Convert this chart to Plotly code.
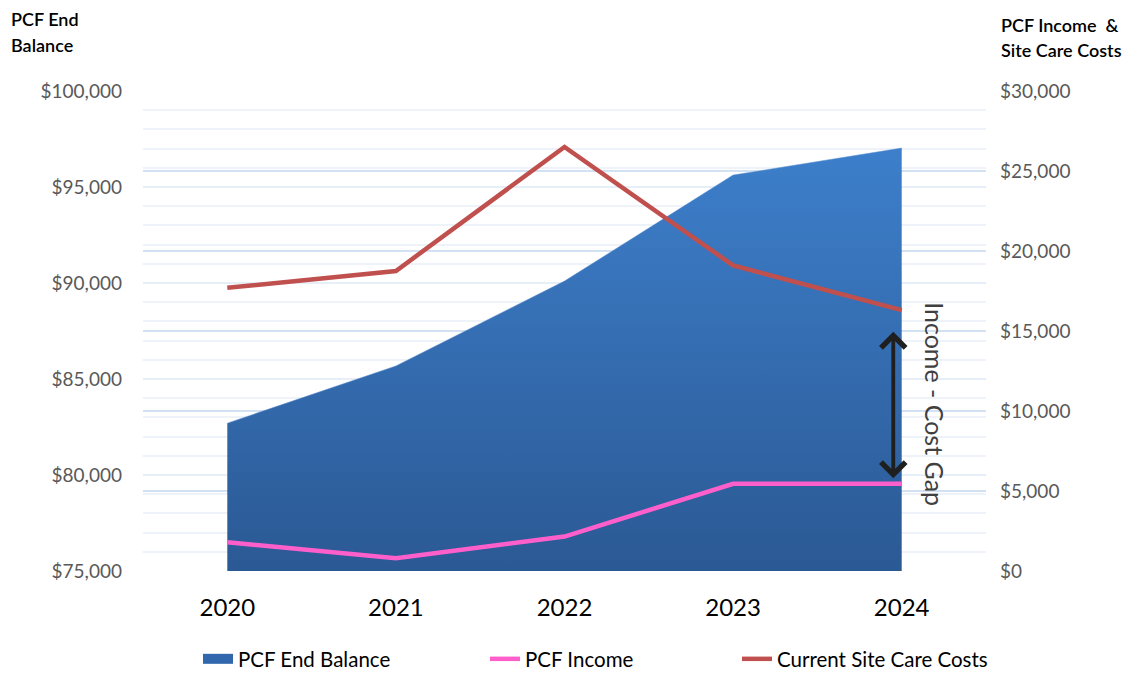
import plotly.graph_objects as go

years = ["2020", "2021", "2022", "2023", "2024"]
end_balance = [82700, 85680, 90100, 95620, 97030]
pcf_income = [1800, 800, 2150, 5450, 5450]
site_care_costs = [17700, 18750, 26500, 19100, 16300]

left_ticks = [75000, 80000, 85000, 90000, 95000, 100000]
right_ticks = [0, 5000, 10000, 15000, 20000, 25000, 30000]

FONT = "Lato"
BLUE_TOP = "#3d7fcb"
BLUE_BOTTOM = "#2b5994"

fig = go.Figure()

fig.add_trace(go.Scatter(
    x=years, y=end_balance, name="PCF End Balance", mode="lines",
    fill="tozeroy", line=dict(width=0.5, color="#5b8fd0"),
    fillgradient=dict(type="vertical", start=75000, stop=97030,
                      colorscale=[[0, BLUE_BOTTOM], [1, BLUE_TOP]]),
    yaxis="y", showlegend=False,
))
# legend-only entry for the area (no data points)
fig.add_trace(go.Scatter(
    x=[None], y=[None], name="PCF End Balance", mode="lines",
    line=dict(width=16, color="#3168ad"), yaxis="y", legend="legend",
))
fig.add_trace(go.Scatter(
    x=years, y=pcf_income, name="PCF Income", mode="lines",
    line=dict(width=4.5, color="#ff5fcb"), yaxis="y2", legend="legend2",
))
fig.add_trace(go.Scatter(
    x=years, y=site_care_costs, name="Current Site Care Costs", mode="lines",
    line=dict(width=4.5, color="#c0504d"), yaxis="y2", legend="legend3",
))

legend_common = dict(orientation="h", xref="container", yref="container",
                     yanchor="middle", y=14 / 673, bgcolor="rgba(0,0,0,0)",
                     font=dict(family=FONT, size=20.5, color="#000000"))

fig.update_layout(
    width=1124, height=673,
    margin=dict(l=142.5, r=137.5, t=91, b=102),
    paper_bgcolor="white", plot_bgcolor="white",
    font=dict(family=FONT),
    xaxis=dict(
        type="category", range=[-0.5, 4.5], showgrid=False, zeroline=False,
        showline=False, ticks="", tickfont=dict(family=FONT, size=24, color="#000000"),
        ticklabelstandoff=20,
    ),
    yaxis=dict(
        range=[75000, 100000], tickvals=left_ticks,
        ticktext=[f"${v:,}" for v in left_ticks],
        tickfont=dict(family=FONT, size=19, color="#595959"),
        showgrid=True, gridcolor="#e6eef8", gridwidth=1.5,
        minor=dict(dtick=1000, tick0=75000, showgrid=True, gridcolor="#eef3fa", gridwidth=1.5),
        zeroline=False, showline=False, ticks="", ticklabelstandoff=20,
    ),
    yaxis2=dict(
        range=[0, 30000], tickvals=right_ticks,
        ticktext=[f"${v:,}" for v in right_ticks],
        tickfont=dict(family=FONT, size=19, color="#595959"),
        overlaying="y", side="right",
        showgrid=True, gridcolor="#d3e2f3", gridwidth=1.5,
        zeroline=False, showline=False, ticks="", ticklabelstandoff=13,
    ),
    legend=dict(**legend_common, x=198 / 1124),
    legend2=dict(**legend_common, x=485 / 1124),
    legend3=dict(**legend_common, x=737 / 1124),
    showlegend=True,
)

title_font = dict(family=FONT, size=18, color="#000000", weight=600)
# left axis title (two lines)
for txt, ypx in [("PCF End", 19), ("Balance", 45)]:
    fig.add_annotation(text=txt, xref="paper", yref="paper",
                       x=-134 / 844, y=(571 - ypx) / 480, xanchor="left", yanchor="middle",
                       showarrow=False, font=title_font)
# right axis title (two lines)
for txt, ypx in [("PCF Income  &", 25), ("Site Care Costs", 50)]:
    fig.add_annotation(text=txt, xref="paper", yref="paper",
                       x=1 + 13 / 844, y=(571 - ypx) / 480, xanchor="left", yanchor="middle",
                       showarrow=False, font=title_font)

# gap arrow
fig.add_annotation(x=3.95, y=14950, xref="x", yref="y2",
                   ax=3.95, ay=5700, axref="x", ayref="y2",
                   text="", showarrow=True, arrowhead=4, startarrowhead=4,
                   arrowside="end+start", arrowwidth=3.8, arrowsize=1.25,
                   startarrowsize=1.25, arrowcolor="#1f1f1f")
fig.add_annotation(text="Income - Cost Gap", x=4.2, y=10400, xref="x", yref="y2",
                   textangle=90, showarrow=False,
                   font=dict(family=FONT, size=25, color="#404040"))

fig.write_html("out.html")
